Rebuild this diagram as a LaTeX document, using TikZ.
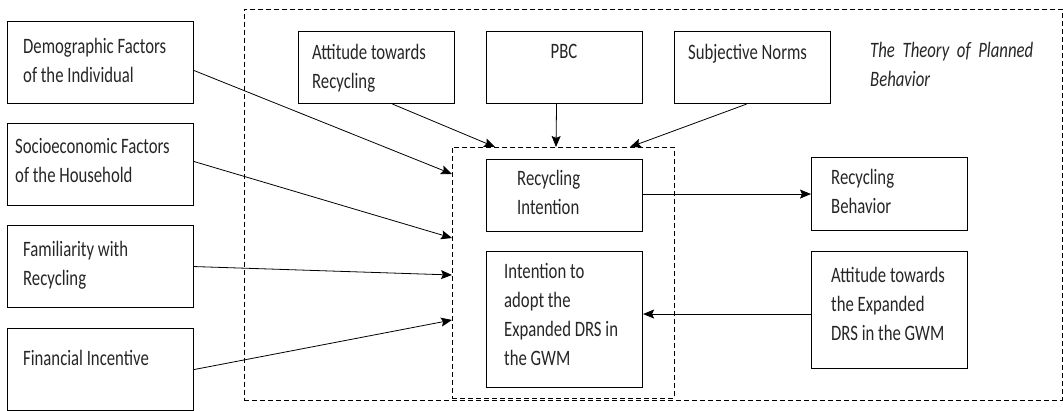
\documentclass[tikz,border=0pt]{standalone}
\usepackage{fontspec}
\setmainfont{Carlito}[FakeStretch=0.76]
\usetikzlibrary{arrows.meta}
\begin{document}
\begin{tikzpicture}[x=1pt,y=-1pt,
  box/.style={draw, line width=1.1pt, minimum width=156pt, minimum height=72pt, anchor=north west, inner sep=0pt},
  lbox/.style={box, minimum width=186pt, minimum height=82pt},
  txt/.style={anchor=north west, inner sep=0pt, align=left, text=black!85, font=\fontsize{22}{29}\selectfont},
  dashbox/.style={draw, line width=0.9pt, dash pattern=on 5pt off 3pt, anchor=north west, inner sep=0pt},
  arr/.style={line width=0.8pt, -{Stealth[length=11pt,width=9pt,inset=2pt]}}]
\useasboundingbox (0,0) rectangle (1063,411);

% dashed frames
\node[dashbox, minimum width=818pt, minimum height=391pt] (tpb) at (244,9) {};
\node[dashbox, minimum width=222pt, minimum height=251pt] (inner) at (452,147) {};

% left boxes
\node[lbox] (demo) at (7,21) {};
\node[lbox] (socio) at (7,123) {};
\node[lbox] (fam) at (7,225) {};
\node[lbox] (fin) at (7,328) {};
\node[txt] (demot) at (23,38) {Demographic Factors\\of the Individual};
\node[txt] (sociot) at (15,138) {Socioeconomic Factors\\of the Household};
\node[txt] (famt) at (23,241) {Familiarity with\\Recycling};
\node[txt] (fint) at (23,350) {Financial Incentive};

% top boxes
\node[box] (attR) at (298,31) {};
\node[box] (pbc) at (486,31) {};
\node[box] (sn) at (674,31) {};
\node[txt] (attRt) at (312,44) {Attitude towards\\Recycling};
\node[txt, anchor=north] (pbct) at (564,44) {PBC};
\node[txt] (snt) at (688,44) {Subjective Norms};
\node[txt] (tpbt) at (870,42) {\itshape\makebox[163pt][s]{The Theory of Planned}\\\itshape Behavior};

% inner boxes
\node[box, minimum height=72pt] (ri) at (486,159) {};
\node[box, minimum height=136pt] (ia) at (486,251) {};
\node[txt] (rit) at (517,170) {Recycling\\Intention};
\node[txt] (iat) at (504,263) {Intention to\\adopt the\\Expanded DRS in\\the GWM};

% right boxes
\node[box, minimum height=73pt] (rb) at (811,157) {};
\node[box, minimum height=117pt] (ae) at (811,251) {};
\node[txt] (rbt) at (831,169) {Recycling\\Behavior};
\node[txt] (aet) at (831,267) {Attitude towards\\the Expanded\\DRS in the GWM};

% arrow end points on the inner frame
\coordinate (e1) at (452,174);
\coordinate (e2) at (452,238);
\coordinate (e3) at (452,275);
\coordinate (e4) at (452,320);
\coordinate (t1) at (495,147);
\coordinate (t2) at (556,147);
\coordinate (t3) at (630,147);

\draw[arr] ([yshift=-8pt]demo.east) -- (e1);
\draw[arr] ([yshift=3pt]socio.east) -- (e2);
\draw[arr] (fam.east) -- (e3);
\draw[arr] (fin.east) -- (e4);

\draw[arr] ([xshift=16pt]attR.south) -- (t1);
\draw[arr] ([xshift=-8pt]pbc.south) -- (t2);
\draw[arr] ([xshift=-6pt]sn.south) -- (t3);

\draw[arr] (rb.west -| ri.east) -- (rb.west);
\draw[arr] ([yshift=-4pt]ae.west) -- ([yshift=-4pt]ae.west -| ia.east);
\end{tikzpicture}
\end{document}
